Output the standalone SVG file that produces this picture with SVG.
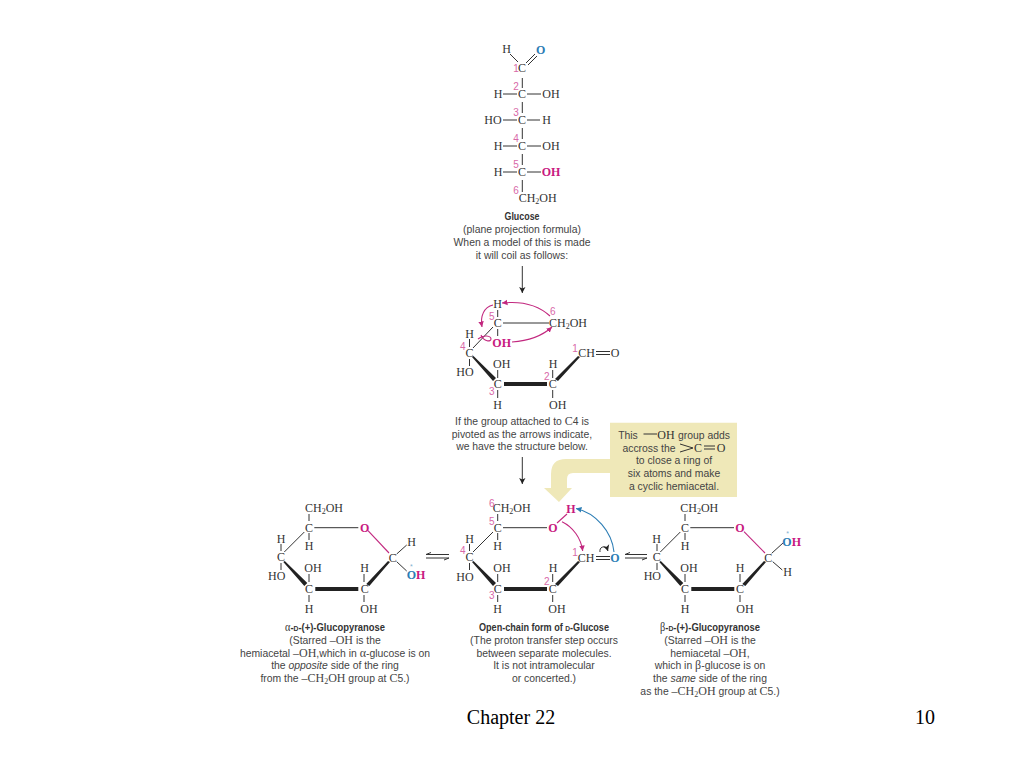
<svg xmlns="http://www.w3.org/2000/svg" width="1024" height="768" viewBox="0 0 1024 768">
<style>
text{font-family:"Liberation Serif","Times New Roman",serif;fill:#333;font-size:12px;text-anchor:middle}
.n{font-family:"Liberation Sans",Arial,sans-serif;fill:#d868a8;font-size:10px}
.t{font-family:"Liberation Sans",Arial,sans-serif;font-size:10.4px;fill:#444}
.b{font-family:"Liberation Sans",Arial,sans-serif;font-weight:bold;font-size:11px;fill:#333}
.s{font-family:"Liberation Serif",serif;font-size:12px}
.pk{fill:#c8197f;font-weight:bold}
.bl{fill:#2c7db5;font-weight:bold}
.l{stroke:#333;stroke-width:1;fill:none}
.w{fill:#222;stroke:none}
.pl{stroke:#c2287f;stroke-width:1.1;fill:none}
.foot{fill:#000;font-size:20px}
.sub{font-size:8px}
.st{font-family:"Liberation Sans",Arial,sans-serif;fill:#7fb0d0;font-size:7px}
</style>
<defs>
<marker id="ah" markerWidth="8" markerHeight="8" refX="6" refY="4" orient="auto"><path d="M0,0.8 L6,4 L0,7.2 L1.6,4 Z" fill="#222"/></marker>
<marker id="ap" markerWidth="7" markerHeight="7" refX="5" refY="3.5" orient="auto"><path d="M0,1 L5,3.5 L0,6 Z" fill="#c2287f"/></marker>
<marker id="ab" markerWidth="7" markerHeight="7" refX="5" refY="3.5" orient="auto"><path d="M0,1 L5,3.5 L0,6 Z" fill="#2c7db5"/></marker>
</defs>
<rect width="1024" height="768" fill="#fff"/>

<g id="glucose-projection">
<path class="l" d="M510,54 L518,62 M526,63 L535,54 M528,65 L537,56 M522.3,78 V88 M503,94 H517 M527,94 H541 M522.3,102 V113 M503,120 H517 M527,120 H540 M522.3,128 V139 M503,146 H517 M527,146 H541 M522.3,154 V165 M503,172 H517 M527,172 H541 M522.3,180 V192"/>
<text x="506.7" y="53">H</text><text x="540.7" y="54" class="bl">O</text>
<text x="522" y="72">C</text><text x="516" y="72" class="n">1</text>
<text x="498" y="98">H</text><text x="522" y="98">C</text><text x="551" y="98">OH</text><text x="516" y="90" class="n">2</text>
<text x="493" y="124">HO</text><text x="522" y="124">C</text><text x="546.5" y="124">H</text><text x="516" y="116" class="n">3</text>
<text x="498" y="150">H</text><text x="522" y="150">C</text><text x="551" y="150">OH</text><text x="516" y="142" class="n">4</text>
<text x="498" y="176">H</text><text x="522" y="176">C</text><text x="551" y="176" class="pk">OH</text><text x="516" y="168" class="n">5</text>
<text x="537.7" y="202">CH<tspan class="sub" dy="2">2</tspan><tspan dy="-2">OH</tspan></text><text x="516" y="194" class="n">6</text>
</g>
<g id="glucose-caption">
<text x="522" y="220" class="t b" textLength="35" lengthAdjust="spacingAndGlyphs">Glucose</text>
<text x="522" y="233" class="t">(plane projection formula)</text>
<text x="522" y="246" class="t">When a model of this is made</text>
<text x="522" y="259" class="t">it will coil as follows:</text>
</g>

<g id="coiled-form">
<path class="l" d="M497.7,310 V317 M503,323 H549 M497.7,329 V336 M493,327 L473,348 M469.5,339 V347 M469.5,359 V366 M497.7,370 V378 M497.7,390 V398 M552.7,370 V378 M552.7,390 V398 M596,351.5 H610 M596,354.5 H610"/>
<path class="w" d="M472,357 L473.5,356 L496,378 L493,381 Z M504,382 H547 V386 H504 Z M555,379 L558,381 L580,357 L578,356 Z"/>
<text x="497.7" y="308">H</text><text x="497.7" y="327">C</text><text x="568" y="327">CH<tspan class="sub" dy="2">2</tspan><tspan dy="-2">OH</tspan></text>
<text x="501.7" y="347" class="pk">OH</text>
<text x="469.5" y="338">H</text><text x="469.5" y="357">C</text><text x="465" y="376">HO</text>
<text x="501.7" y="368">OH</text><text x="497.7" y="388">C</text><text x="497.7" y="409">H</text>
<text x="553" y="368">H</text><text x="552.7" y="388">C</text><text x="557.7" y="409">OH</text>
<text x="586.7" y="357">CH</text><text x="615" y="357">O</text>
<text x="491.7" y="320" class="n">5</text><text x="552.7" y="315" class="n">6</text><text x="462.7" y="350" class="n">4</text><text x="491.7" y="395" class="n">3</text><text x="546.7" y="380" class="n">2</text><text x="575" y="352" class="n">1</text>
</g>
<g id="coiled-caption">
<text x="522" y="425" class="t">If the group attached to <tspan class="s">C</tspan>4 is</text>
<text x="522" y="438" class="t">pivoted as the arrows indicate,</text>
<text x="522" y="450" class="t">we have the structure below.</text>
</g>

<g id="callout">
<path fill="#efe8b8" d="M610,422.7 H737 V497 H610 Z M610,459 H566 Q551,459 551,474 V488 H544 L559,502 L572,488 H567 V479 Q567,473 573,473 H610 Z"/>
<text x="628" y="438.5" class="t">This</text>
<path class="l" stroke-width="1.3" d="M643.5,434 H657"/>
<text x="666" y="439">OH</text>
<text x="704" y="438.5" class="t">group adds</text>
<text x="649" y="451.5" class="t">accross the</text>
<path class="l" d="M680,444 L693,448 L680,452"/>
<text x="698" y="451.5">C</text>
<path class="l" d="M704,446 H715 M704,449 H715"/>
<text x="721" y="451.5">O</text>
<text x="674" y="464" class="t">to close a ring of</text>
<text x="674" y="477" class="t">six atoms and make</text>
<text x="674" y="489.5" class="t">a cyclic hemiacetal.</text>
</g>

<g id="open-chain">
<path class="l" d="M497.7,514 V521 M497.7,533 V540 M503,527.7 H547 M493,532 L473,552 M469.5,544 V551 M469.5,563 V570 M497.7,574 V582 M497.7,595 V602 M552.7,574 V582 M552.7,595 V602 M596,556.5 H610 M596,559.5 H610"/>
<path class="w" d="M472,562 L473.5,561 L496,583 L493,586 Z M504,587 H547 V591 H504 Z M555,584 L558,586 L580,562 L578,561 Z"/>
<path class="pl" d="M557,523 L567,514"/>
<text x="511.7" y="512">CH<tspan class="sub" dy="2">2</tspan><tspan dy="-2">OH</tspan></text><text x="497.7" y="532">C</text><text x="497.7" y="550">H</text>
<text x="553" y="532" class="pk">O</text><text x="571" y="513" class="pk">H</text>
<text x="469.5" y="543">H</text><text x="469.5" y="561">C</text><text x="465" y="581">HO</text>
<text x="502" y="572">OH</text><text x="497.7" y="593">C</text><text x="497.7" y="613">H</text>
<text x="553" y="572">H</text><text x="552.7" y="593">C</text><text x="557" y="613">OH</text>
<text x="586" y="562">CH</text><text x="615" y="562" class="bl">O</text>
<text x="491.7" y="507" class="n">6</text><text x="491.7" y="525" class="n">5</text><text x="462.7" y="554" class="n">4</text><text x="491.7" y="599" class="n">3</text><text x="546.7" y="585" class="n">2</text><text x="575" y="556" class="n">1</text>
</g>
<g id="alpha-pyranose">
<path class="l" d="M309,514 V521 M309,533 V540 M314.3,527.7 H358.3 M304.3,532 L284.3,552 M281,544 V551 M281,563 V570 M309,574 V582 M309,595 V602 M364,574 V582 M364,595 V602 M396.7,554 L406.7,545 M396.7,561.7 L406.7,571"/>
<path class="w" d="M283.3,562 L284.8,561 L307.3,583 L304.3,586 Z M315.3,587 H358.3 V591 H315.3 Z M366.3,584 L369.3,586 L390,562 L388,561 Z"/>
<path class="pl" d="M368,530.7 L389,553"/>
<text x="324" y="512">CH<tspan class="sub" dy="2">2</tspan><tspan dy="-2">OH</tspan></text><text x="309" y="532">C</text><text x="309" y="550">H</text>
<text x="364.7" y="532" class="pk">O</text>
<text x="281" y="543">H</text><text x="281" y="561">C</text><text x="276.7" y="580">HO</text>
<text x="313" y="572">OH</text><text x="309" y="593">C</text><text x="309" y="613">H</text>
<text x="364.7" y="572">H</text><text x="364.7" y="593">C</text><text x="369" y="613">OH</text>
<text x="392.7" y="562">C</text><text x="411.7" y="546">H</text>
<text x="416" y="579"><tspan class="bl">O</tspan><tspan class="pk">H</tspan></text>
<text x="411.3" y="569" class="st">*</text>
</g>
<g id="beta-pyranose">
<path class="l" d="M685,514 V521 M685,533 V540 M690.3,527.7 H734 M680.3,532 L660.3,552 M657,544 V551 M657,563 V570 M685,574 V582 M685,595 V602 M740,574 V582 M740,595 V602 M771.7,553.3 L783,543 M772.7,561.7 L782.3,570"/>
<path class="w" d="M659.3,562 L660.8,561 L683.3,583 L680.3,586 Z M691.3,587 H734.3 V591 H691.3 Z M742.3,584 L745.3,586 L766,562 L764,561 Z"/>
<path class="pl" d="M744,531.7 L765,553"/>
<text x="699.3" y="512">CH<tspan class="sub" dy="2">2</tspan><tspan dy="-2">OH</tspan></text><text x="685" y="532">C</text><text x="685" y="550">H</text>
<text x="740" y="532" class="pk">O</text>
<text x="656.7" y="543">H</text><text x="656.7" y="561">C</text><text x="652.3" y="580">HO</text>
<text x="689" y="572">OH</text><text x="685" y="593">C</text><text x="685" y="613">H</text>
<text x="740" y="572">H</text><text x="740" y="593">C</text><text x="745" y="613">OH</text>
<text x="768.3" y="562">C</text><text x="787.7" y="576">H</text>
<text x="791.7" y="546"><tspan class="bl">O</tspan><tspan class="pk">H</tspan></text>
<text x="787.7" y="536" class="st">*</text>
</g>

<g id="captions">
<text x="335" y="631" class="t b" textLength="100" lengthAdjust="spacingAndGlyphs"><tspan class="s" style="font-weight:normal">α</tspan>-<tspan font-size="8">D</tspan>-(+)-Glucopyranose</text>
<text x="335" y="644" class="t">(Starred <tspan class="s">–OH</tspan> is the</text>
<text x="335" y="657" class="t">hemiacetal <tspan class="s">–OH</tspan>,which in <tspan class="s">α</tspan>-glucose is on</text>
<text x="335" y="669" class="t">the <tspan font-style="italic">opposite</tspan> side of the ring</text>
<text x="335" y="682" class="t">from the <tspan class="s">–CH<tspan class="sub" dy="2">2</tspan><tspan dy="-2">OH</tspan></tspan> group at <tspan class="s">C</tspan>5.)</text>
<text x="544" y="631" class="t b" textLength="130" lengthAdjust="spacingAndGlyphs">Open-chain form of <tspan font-size="8">D</tspan>-Glucose</text>
<text x="544" y="644" class="t">(The proton transfer step occurs</text>
<text x="544" y="657" class="t">between separate molecules.</text>
<text x="544" y="669" class="t">It is not intramolecular</text>
<text x="544" y="682" class="t">or concerted.)</text>
<text x="710" y="631" class="t b" textLength="100" lengthAdjust="spacingAndGlyphs"><tspan class="s" style="font-weight:normal">β</tspan>-<tspan font-size="8">D</tspan>-(+)-Glucopyranose</text>
<text x="710" y="644" class="t">(Starred <tspan class="s">–OH</tspan> is the</text>
<text x="710" y="657" class="t">hemiacetal <tspan class="s">–OH</tspan>,</text>
<text x="710" y="669" class="t">which in <tspan class="s">β</tspan>-glucose is on</text>
<text x="710" y="682" class="t">the <tspan font-style="italic">same</tspan> side of the ring</text>
<text x="710" y="695" class="t">as the <tspan class="s">–CH<tspan class="sub" dy="2">2</tspan><tspan dy="-2">OH</tspan></tspan> group at <tspan class="s">C</tspan>5.)</text>
</g>

<g id="connectors">
<path class="l" marker-end="url(#ah)" d="M522.3,266 V293"/>
<path class="l" marker-end="url(#ah)" d="M522.3,457 V484"/>
<path class="pl" marker-end="url(#ap)" d="M550,316 C537,304 520,301 502,303"/>
<path class="pl" marker-end="url(#ap)" d="M493,305 C484,307 480,316 482,327"/>
<path class="pl" marker-end="url(#ap)" d="M512,342 C528,341 542,336 552,327"/>
<path class="pl" d="M478,339 C484,334 491,336 491,339 C491,342 484,342 481,335"/>
<path class="pl" marker-end="url(#ap)" d="M562,521.7 C573,527 581,538 582.7,551"/>
<path stroke="#2c7db5" stroke-width="1.1" fill="none" marker-end="url(#ab)" d="M614,552 C612,532 596,513 576,508.5"/>
<path class="l" marker-end="url(#ah)" d="M600,552 C599,546 606,545 608,551"/>
<path class="l" stroke-width="0.8" d="M426,554.5 H449 M426,558 H449 M426,554.5 L431,552.5 M449,558 L444,560"/>
<path class="l" stroke-width="0.8" d="M625,554.5 H647 M625,558 H647 M625,554.5 L630,552.5 M647,558 L642,560"/>
</g>

<g id="footer">
<text x="511" y="724" class="foot">Chapter 22</text>
<text x="925" y="724" class="foot">10</text>
</g>
</svg>
